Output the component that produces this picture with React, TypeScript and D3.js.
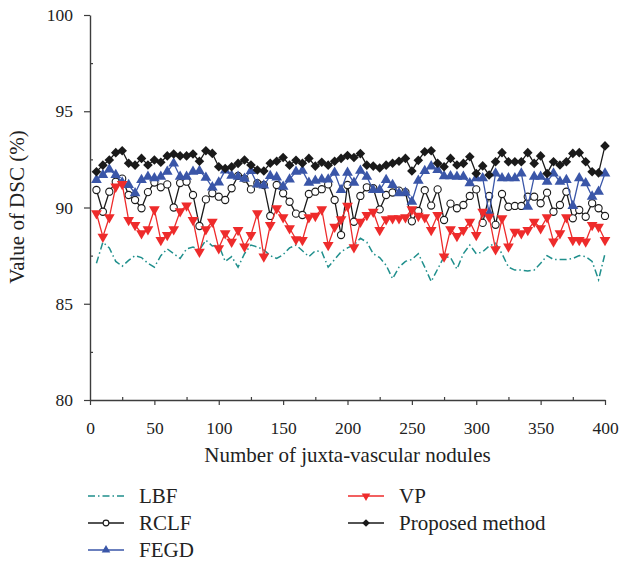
import React, { useEffect, useRef } from 'react';
import * as d3 from 'd3';

// number of juxta-vascular nodules (x), one sample every 5
const nodules = d3.range(5, 401, 5);

const lbf = [
  87.1, 88.2, 87.9, 87.2, 86.95, 87.25, 87.5, 87.4, 87.1, 86.9,
  87.5, 87.85, 87.6, 87.35, 87.85, 87.95, 87.8, 88.3, 88.0, 88.05,
  87.2, 87.45, 86.9, 87.6, 88.05, 87.95, 87.8, 87.5, 87.35, 87.55,
  87.9, 88.05, 87.75, 87.45, 87.75, 87.7, 86.9, 87.3, 87.7, 87.9,
  88.05, 88.4, 88.2, 87.6, 87.4, 87.0, 86.3, 86.9, 87.2, 87.3,
  87.6, 86.9, 86.15, 86.8, 87.45, 87.4, 86.8, 87.6, 88.05, 87.6,
  87.7, 88.0, 88.14, 87.6, 86.9, 86.75, 86.75, 86.7, 86.75, 87.1,
  87.5, 87.3, 87.3, 87.3, 87.35, 87.5, 87.45, 87.2, 86.25, 87.6
];

const rclf = [
  90.91, 89.78, 90.82, 91.34, 91.5, 90.65, 90.39, 89.96, 90.8, 91.3,
  91.05, 91.2, 90.0, 91.27, 91.34, 90.65, 89.04, 90.42, 90.74, 90.56,
  90.39, 91.0, 91.64, 91.5, 90.94, 91.26, 91.17, 89.56, 91.17, 90.74,
  90.3, 89.68, 89.61, 90.7, 90.82, 90.95, 91.2, 90.39, 88.57, 91.17,
  89.26, 90.6, 91.05, 91.0, 89.9, 90.65, 90.78, 90.88, 90.8, 89.28,
  89.82, 90.9, 90.1, 90.94, 89.35, 90.2, 89.96, 90.13, 90.6, 90.94,
  89.2, 90.6, 89.1, 90.7, 90.04, 90.08, 90.08, 90.56, 90.56, 90.22,
  90.77, 89.78, 90.13, 90.82, 89.44, 89.87, 89.52, 90.22, 89.96, 89.56
];

const fegd = [
  91.43, 91.69, 91.98, 91.69, 91.3, 91.17, 90.74, 91.43, 91.6, 91.52,
  91.6, 91.86, 92.29, 91.6, 91.6, 91.86, 91.9, 91.55, 91.05, 91.3,
  91.93, 91.65, 91.6, 91.5, 91.9, 91.2, 91.15, 91.64, 91.57, 91.08,
  91.46, 91.86, 91.91, 91.29, 91.39, 91.46, 91.46, 91.81, 90.91, 91.81,
  91.29, 91.91, 91.6, 90.91, 90.91, 91.43, 91.17, 90.74, 90.77, 90.3,
  91.39, 91.9, 92.14, 91.95, 91.63, 91.63, 91.6, 91.6, 91.26, 91.52,
  91.52, 89.7, 91.77, 91.52, 91.52, 91.52, 91.77, 90.04, 91.6, 91.6,
  91.34, 91.77, 91.34, 91.43, 90.08, 91.52, 91.26, 90.57, 90.82, 91.77
];

const vp = [
  89.7, 88.48, 89.49, 91.08, 91.22, 89.35, 89.09, 88.66, 88.87, 89.9,
  88.31, 88.57, 88.87, 89.8, 90.1, 89.35, 87.7, 88.87, 89.26, 87.88,
  88.66, 88.22, 88.83, 87.97, 88.57, 89.7, 87.45, 89.09, 89.96, 89.49,
  88.92, 88.35, 88.31, 89.49, 89.56, 89.9, 88.05, 89.0, 89.39, 90.08,
  87.93, 89.26, 89.61, 89.78, 88.83, 89.39, 89.44, 89.44, 89.49, 89.9,
  89.56, 89.49, 88.83, 89.61, 87.45, 88.87, 88.52, 88.83, 89.26, 88.57,
  89.78, 89.52, 87.83, 89.44, 87.97, 88.74, 88.66, 88.83, 89.26, 88.92,
  89.49, 88.23, 88.66, 89.49, 88.31, 88.31, 88.23, 89.09, 89.0, 88.31
];

const proposed = [
  91.86, 92.2, 92.47, 92.85, 92.95, 92.3, 92.2, 92.55, 92.21, 92.47,
  92.35, 92.68, 92.78, 92.68, 92.68, 92.78, 92.4, 92.95, 92.81, 92.12,
  92.03, 92.12, 92.29, 92.47, 92.21, 91.95, 91.9, 92.3, 92.4, 92.6,
  92.2, 92.45, 92.3, 92.55, 92.15, 92.35, 92.2, 92.4, 92.55, 92.7,
  92.6, 92.8, 92.2, 92.15, 92.05, 92.2, 92.3, 92.4, 92.55, 91.9,
  92.45, 92.9, 92.95, 92.3, 92.12, 92.55, 92.21, 92.29, 92.64, 91.77,
  92.16, 91.69, 92.38, 92.85, 92.38, 92.38, 92.38, 92.85, 92.29, 92.68,
  91.77, 92.38, 92.21, 92.38, 92.81, 92.85, 92.38, 91.86, 91.8, 93.2
];

const xTicks = [0, 50, 100, 150, 200, 250, 300, 350, 400];
const xMinor = [25, 75, 125, 175, 225, 275, 325, 375];
const yTicks = [80, 85, 90, 95, 100];
const yMinor = [82.5, 87.5, 92.5, 97.5];

const FONT = 'Liberation Serif, DejaVu Serif, serif';

export default function App() {
  const svgRef = useRef(null);

  useEffect(() => {
    const svg = d3.select(svgRef.current);
    svg.selectAll('*').remove();

    const x = d3.scaleLinear().domain([0, 400]).range([90, 605]);
    const y = d3.scaleLinear().domain([80, 100]).range([400, 15]);
    const axisColor = '#3d3d3d';

    // axes
    const gy = svg.append('g').attr('transform', 'translate(90,0)');
    gy.call(d3.axisLeft(y).tickValues(yTicks).tickSizeInner(6).tickSizeOuter(0).tickPadding(11));
    const gyMinor = svg.append('g').attr('transform', 'translate(90,0)');
    gyMinor.call(d3.axisLeft(y).tickValues(yMinor).tickSize(-3).tickFormat(() => ''));
    gyMinor.select('.domain').remove();

    const gx = svg.append('g').attr('transform', 'translate(0,400)');
    gx.call(d3.axisBottom(x).tickValues(xTicks).tickSizeInner(5).tickSizeOuter(0).tickPadding(17));
    const gxMinor = svg.append('g').attr('transform', 'translate(0,400)');
    gxMinor.call(d3.axisBottom(x).tickValues(xMinor).tickSize(-3).tickFormat(() => ''));
    gxMinor.select('.domain').remove();

    // d3 axes put font-family on the group, so reset it there
    svg.selectAll('g').attr('font-family', FONT).attr('font-size', 17.5);
    svg.selectAll('.domain').attr('stroke', axisColor).attr('stroke-width', 1.4);
    svg.selectAll('.tick line').attr('stroke', axisColor).attr('stroke-width', 1.2);
    svg.selectAll('.tick text').attr('fill', '#222');

    svg.append('text')
      .attr('x', 347.5).attr('y', 462)
      .attr('text-anchor', 'middle')
      .attr('fill', '#222')
      .attr('font-family', FONT).attr('font-size', 21)
      .text('Number of juxta-vascular nodules');

    svg.append('text')
      .attr('transform', 'translate(24,207) rotate(-90)')
      .attr('text-anchor', 'middle')
      .attr('fill', '#222')
      .attr('font-family', FONT).attr('font-size', 21)
      .text('Value of DSC (%)');

    const series = [
      { name: 'LBF', values: lbf, color: '#1f8f8c', dash: '7,3,1.5,3', marker: null },
      { name: 'RCLF', values: rclf, color: '#1a1a1a', dash: null, marker: 'circle' },
      { name: 'FEGD', values: fegd, color: '#3a56a8', dash: null, marker: 'up' },
      { name: 'VP', values: vp, color: '#ee2b2b', dash: null, marker: 'down' },
      { name: 'Proposed method', values: proposed, color: '#1a1a1a', dash: null, marker: 'diamond' }
    ];

    const line = d3.line().x((d, i) => x(nodules[i])).y(d => y(d));

    const drawMarker = (g, type, color, px, py, scale = 1) => {
      if (type === 'circle') {
        g.append('circle').attr('cx', px).attr('cy', py).attr('r', 3.6 * scale)
          .attr('fill', '#fff').attr('stroke', color).attr('stroke-width', 1.1);
      } else if (type === 'up' || type === 'down') {
        g.append('path')
          .attr('d', d3.symbol(d3.symbolTriangle, 50 * scale * scale)())
          .attr('transform', `translate(${px},${py})${type === 'down' ? ' rotate(180)' : ''}`)
          .attr('fill', color);
      } else if (type === 'diamond') {
        g.append('path')
          .attr('d', d3.symbol(d3.symbolSquare, 46 * scale * scale)())
          .attr('transform', `translate(${px},${py}) rotate(45)`)
          .attr('fill', color);
      }
    };

    series.forEach(s => {
      const g = svg.append('g');
      g.append('path')
        .datum(s.values)
        .attr('d', line)
        .attr('fill', 'none')
        .attr('stroke', s.color)
        .attr('stroke-width', s.marker ? 1.3 : 1.5)
        .attr('stroke-dasharray', s.dash);
      if (s.marker) {
        s.values.forEach((v, i) => drawMarker(g, s.marker, s.color, x(nodules[i]), y(v)));
      }
    });

    // legend
    const legendPos = [
      { lx: 88, ly: 496 }, { lx: 88, ly: 523 }, { lx: 88, ly: 550 },
      { lx: 348, ly: 496 }, { lx: 348, ly: 523 }
    ];
    series.forEach((s, i) => {
      const p = legendPos[i];
      const g = svg.append('g');
      g.append('line')
        .attr('x1', p.lx).attr('x2', p.lx + 36)
        .attr('y1', p.ly).attr('y2', p.ly)
        .attr('stroke', s.color).attr('stroke-width', 1.3)
        .attr('stroke-dasharray', s.dash);
      if (s.marker) drawMarker(g, s.marker, s.color, p.lx + 18, p.ly, 0.8);
      g.append('text')
        .attr('x', p.lx + 51).attr('y', p.ly + 7)
        .attr('fill', '#222')
        .attr('font-family', FONT).attr('font-size', 21)
        .text(s.name);
    });
  }, []);

  return (
    <svg
      ref={svgRef}
      width={624}
      height={563}
      style={{ position: 'absolute', left: 0, top: 0, background: '#fff' }}
    />
  );
}
